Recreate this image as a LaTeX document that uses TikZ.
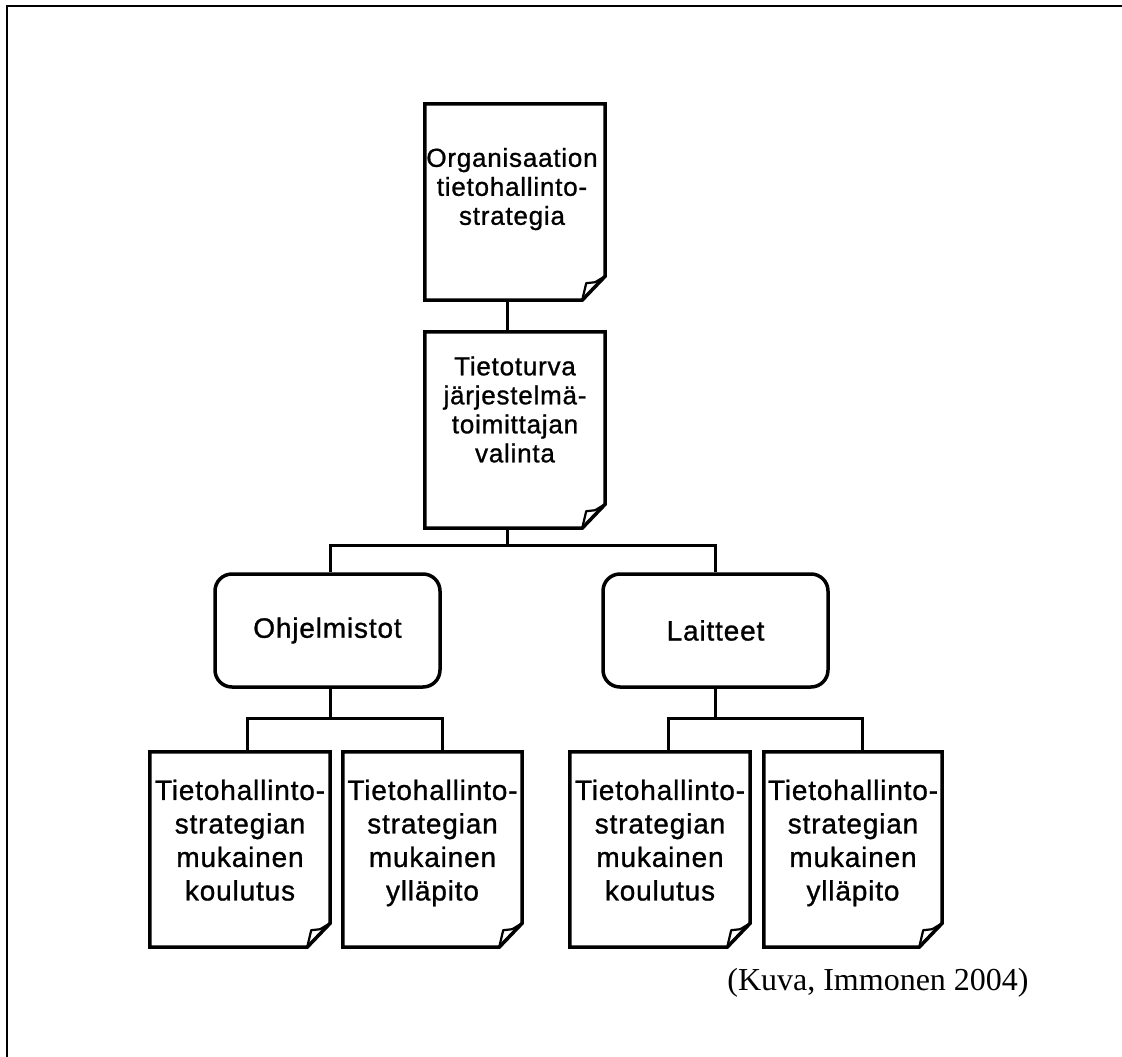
\documentclass[tikz,border=0pt]{standalone}
\usepackage{fontspec}
\setmainfont{Liberation Serif}
\newfontfamily\boxfont[LetterSpace=3,FakeBold=1]{Liberation Sans}

\tikzset{
  frameline/.style={line width=2.5pt},
  boxline/.style={line width=3.5pt, line join=miter},
  flapline/.style={line width=2.2pt, line join=round},
  conn/.style={line width=3pt},
  docbox/.style={draw=none, inner sep=0pt, minimum width=180pt, minimum height=196pt},
  rbox/.style={draw, line width=3.5pt, rounded corners=17pt, inner sep=0pt,
               minimum width=225pt, minimum height=113pt,
               font=\boxfont\fontsize{28}{33}\selectfont},
  txtA/.style={align=center, inner sep=0pt, font=\boxfont\fontsize{26}{29}\selectfont},
  txtB/.style={align=center, inner sep=0pt, font=\boxfont\fontsize{28}{33.5}\selectfont},
  srcnote/.style={inner sep=0pt, anchor=base, font=\fontsize{32}{38}\selectfont},
}

% document sheet with a curled lower right corner
\newcommand\docoutline[1]{%
  \draw[boxline] (#1.north west) -- (#1.north east) -- ([yshift=24pt]#1.south east)
     -- ([xshift=-23pt]#1.south east) -- (#1.south west) -- cycle;
  \draw[flapline] ([xshift=-23pt]#1.south east) -- ([xshift=-19pt,yshift=17pt]#1.south east)
     -- ([xshift=-10pt,yshift=18pt]#1.south east) -- ([yshift=24pt]#1.south east);}

\begin{document}
\begin{tikzpicture}[x=1pt,y=-1pt]
\useasboundingbox (0,0) rectangle (1122,1057);

% open frame: top and left edges
\draw[frameline] (7,1057) -- (7,6) -- (1122,6);

% sheets
\node[docbox] (org) at (515,202) {};
\node[docbox] (sel) at (515,430) {};
\node[docbox, minimum height=195pt] (b1) at (240,849.5) {};
\node[docbox, minimum width=179pt, minimum height=195pt] (b2) at (432.5,849.5) {};
\node[docbox, minimum height=195pt] (b3) at (660,849.5) {};
\node[docbox, minimum width=178pt, minimum height=195pt] (b4) at (853,849.5) {};
\docoutline{org}
\docoutline{sel}
\docoutline{b1}
\docoutline{b2}
\docoutline{b3}
\docoutline{b4}

\node[txtA] (orgT) at (512,190) {\strut Organisaation\\\strut tietohallinto-\\\strut strategia};
\node[txtA] (selT) at (515,413) {\strut Tietoturva\\\strut järjestelmä-\\\strut toimittajan\\\strut valinta};
\node[txtB] (b1T) at (240,843.5) {\strut Tietohallinto-\\\strut strategian\\\strut mukainen\\\strut koulutus};
\node[txtB] (b2T) at (432.5,843.5) {\strut Tietohallinto-\\\strut strategian\\\strut mukainen\\\strut ylläpito};
\node[txtB] (b3T) at (660,843.5) {\strut Tietohallinto-\\\strut strategian\\\strut mukainen\\\strut koulutus};
\node[txtB] (b4T) at (853,843.5) {\strut Tietohallinto-\\\strut strategian\\\strut mukainen\\\strut ylläpito};

% rounded category boxes
\node[rbox] (ohj) at (327.5,630.5) {Ohjelmistot};
\node[rbox] (lai) at (715.5,630.5) {Laitteet};

% connector junctions
\coordinate (j0) at (507,545);
\coordinate (j0l) at (330,545);
\coordinate (j0r) at (715,545);
\coordinate (j1) at (330,718);
\coordinate (j2) at (715,718);

% connectors
\draw[conn] ([xshift=-8pt]org.south) -- ([xshift=-8pt]org.south |- sel.north);
\draw[conn] ([xshift=-8pt]sel.south) -- (j0);
\draw[conn] (ohj.north -| j0l) -- (j0l) -- (j0r) -- (lai.north -| j0r);
\draw[conn] (ohj.south -| j1) -- (j1);
\draw[conn] ([xshift=7pt]b1.north) -- ([xshift=7pt]b1.north |- j1) -- ([xshift=9.5pt]b2.north |- j1) -- ([xshift=9.5pt]b2.north);
\draw[conn] (lai.south -| j2) -- (j2);
\draw[conn] ([xshift=8pt]b3.north) -- ([xshift=8pt]b3.north |- j2) -- ([xshift=9pt]b4.north |- j2) -- ([xshift=9pt]b4.north);

% source note
\node[srcnote] (src) at (878,990) {(Kuva, Immonen 2004)};
\end{tikzpicture}
\end{document}
